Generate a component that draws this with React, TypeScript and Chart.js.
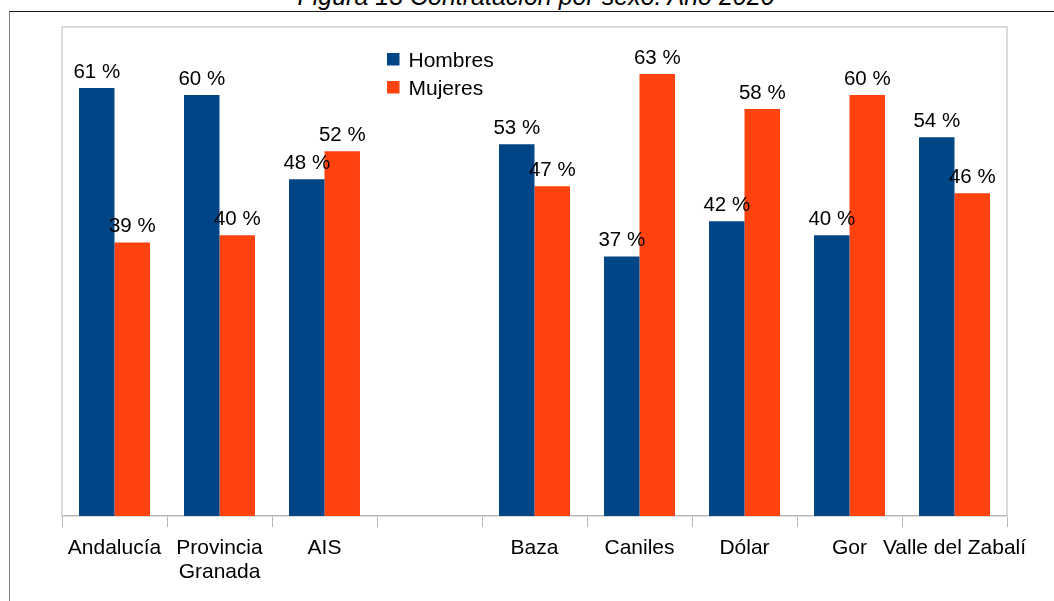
import React, { useEffect, useRef } from "react";
import { Chart, registerables } from "chart.js";

Chart.register(...registerables);

const categories: (string | string[])[] = [
  "Andalucía",
  ["Provincia", "Granada"],
  "AIS",
  "",
  "Baza",
  "Caniles",
  "Dólar",
  "Gor",
  "Valle del Zabalí",
];
const seriesNames = ["Hombres", "Mujeres"];
const hombres: (number | null)[] = [61, 60, 48, null, 53, 37, 42, 40, 54];
const mujeres: (number | null)[] = [39, 40, 52, null, 47, 63, 58, 60, 46];
const seriesColors = ["#004586", "#ff420e"];
const titleText = "Figura 13 Contratación por sexo. Año 2020";

const FONT = "'Liberation Sans', Arial, sans-serif";

const plotBorderPlugin = {
  id: "plotBorder",
  beforeDatasetsDraw(chart: any) {
    const { ctx, chartArea } = chart;
    ctx.save();
    ctx.strokeStyle = "#cfcfcf";
    ctx.lineWidth = 1.5;
    ctx.beginPath();
    ctx.moveTo(chartArea.left, chartArea.bottom);
    ctx.lineTo(chartArea.left, chartArea.top);
    ctx.lineTo(chartArea.right, chartArea.top);
    ctx.lineTo(chartArea.right, chartArea.bottom);
    ctx.stroke();
    ctx.restore();
  },
};

const valueLabelPlugin = {
  id: "valueLabels",
  afterDatasetsDraw(chart: any) {
    const { ctx } = chart;
    ctx.save();
    ctx.font = `20.5px ${FONT}`;
    ctx.fillStyle = "#000000";
    ctx.textAlign = "center";
    ctx.textBaseline = "alphabetic";
    chart.data.datasets.forEach((ds: any, di: number) => {
      const meta = chart.getDatasetMeta(di);
      meta.data.forEach((el: any, i: number) => {
        const v = ds.data[i];
        if (v === null || v === undefined) return;
        ctx.fillText(`${v} %`, el.x, el.y - 10);
      });
    });
    ctx.restore();
  },
};

const legendPlugin = {
  id: "customLegend",
  afterDraw(chart: any) {
    const { ctx, chartArea } = chart;
    ctx.save();
    ctx.font = `21px ${FONT}`;
    ctx.fillStyle = "#000000";
    ctx.textBaseline = "alphabetic";
    ctx.textAlign = "left";
    const x0 = chartArea.left + 325;
    const y0 = chartArea.top + 26;
    seriesNames.forEach((name, i) => {
      const y = y0 + i * 28;
      ctx.fillStyle = seriesColors[i];
      ctx.fillRect(x0, y, 12.5, 12.5);
      ctx.fillStyle = "#000000";
      ctx.fillText(name, x0 + 21.5, y + 14);
    });
    ctx.restore();
  },
};

export default function App() {
  const canvasRef = useRef<HTMLCanvasElement>(null);

  useEffect(() => {
    if (!canvasRef.current) return;
    const chart = new Chart(canvasRef.current, {
      type: "bar",
      data: {
        labels: categories,
        datasets: [
          {
            label: seriesNames[0],
            data: hombres,
            backgroundColor: seriesColors[0],
            categoryPercentage: 0.676,
            barPercentage: 1,
          },
          {
            label: seriesNames[1],
            data: mujeres,
            backgroundColor: seriesColors[1],
            categoryPercentage: 0.676,
            barPercentage: 1,
          },
        ],
      },
      options: {
        responsive: false,
        animation: false,
        devicePixelRatio: 1,
        layout: { padding: { left: 62, right: 47, top: 27, bottom: 0 } },
        plugins: {
          legend: { display: false },
          title: { display: false },
          tooltip: { enabled: false },
        },
        scales: {
          x: {
            grid: {
              display: true,
              drawOnChartArea: false,
              drawTicks: true,
              tickLength: 11,
              color: "#b8b8b8",
              offset: true,
            },
            border: { display: true, color: "#b8b8b8", width: 1.5 },
            ticks: {
              font: { family: FONT, size: 21, lineHeight: 1.15 },
              color: "#000000",
              padding: 9,
              maxRotation: 0,
              minRotation: 0,
              autoSkip: false,
            },
            afterFit(scale: any) {
              scale.height = 85;
            },
          },
          y: {
            display: false,
            min: 0,
            max: 69.7,
          },
        },
      },
      plugins: [plotBorderPlugin, valueLabelPlugin, legendPlugin],
    });
    return () => chart.destroy();
  }, []);

  return (
    <div
      style={{
        position: "fixed",
        left: 0,
        top: 0,
        width: 1054,
        height: 601,
        overflow: "hidden",
        background: "#ffffff",
      }}
    >
      <div
        style={{
          position: "absolute",
          left: 0,
          width: 1072,
          top: -16,
          height: 25,
          lineHeight: "25px",
          textAlign: "center",
          fontFamily: FONT,
          fontStyle: "italic",
          fontSize: 25,
          color: "#000000",
          whiteSpace: "nowrap",
        }}
      >
        {titleText}
      </div>
      <div
        style={{
          position: "absolute",
          left: 9,
          top: 11,
          width: 1100,
          height: 700,
          borderTop: "1px solid #1a1a1a",
          borderLeft: "1px solid #7f7f7f",
        }}
      />
      <canvas
        ref={canvasRef}
        width={1054}
        height={601}
        style={{ position: "absolute", left: 0, top: 0, width: 1054, height: 601 }}
      />
    </div>
  );
}
